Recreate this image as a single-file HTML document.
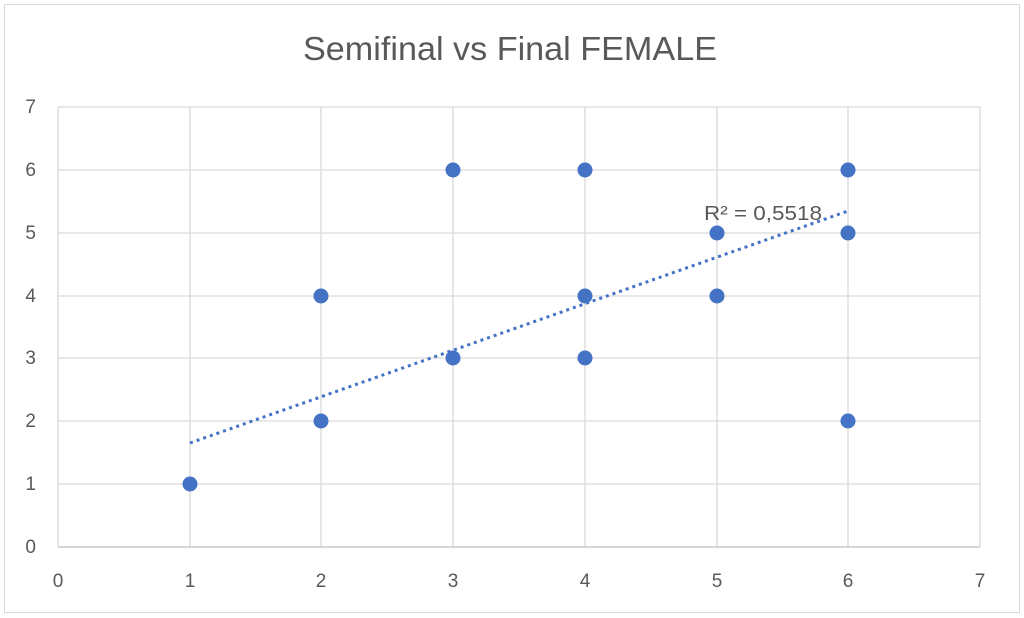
<!DOCTYPE html>
<html><head><meta charset="utf-8"><style>
html,body{margin:0;padding:0;background:#fff;}
svg{display:block;font-family:"Liberation Sans",sans-serif;}
</style></head><body>
<svg width="1024" height="618" viewBox="0 0 1024 618">
<rect x="0" y="0" width="1024" height="618" fill="#fff"/>
<rect x="4.5" y="4.5" width="1015" height="608" fill="none" stroke="#d9d9d9"/>
<text x="510" y="60" text-anchor="middle" font-size="33" fill="#595959" textLength="414" lengthAdjust="spacingAndGlyphs">Semifinal vs Final FEMALE</text>
<g stroke="#d9d9d9" stroke-width="1.3">
<line x1="58" y1="107" x2="980" y2="107"/>
<line x1="58" y1="170" x2="980" y2="170"/>
<line x1="58" y1="233" x2="980" y2="233"/>
<line x1="58" y1="296" x2="980" y2="296"/>
<line x1="58" y1="358" x2="980" y2="358"/>
<line x1="58" y1="421" x2="980" y2="421"/>
<line x1="58" y1="484" x2="980" y2="484"/>
<line x1="190" y1="107" x2="190" y2="547"/>
<line x1="321" y1="107" x2="321" y2="547"/>
<line x1="453" y1="107" x2="453" y2="547"/>
<line x1="585" y1="107" x2="585" y2="547"/>
<line x1="717" y1="107" x2="717" y2="547"/>
<line x1="848" y1="107" x2="848" y2="547"/>
<line x1="980" y1="107" x2="980" y2="547"/>
</g>
<line x1="58" y1="547" x2="980" y2="547" stroke="#bfbfbf" stroke-width="1.3"/>
<line x1="58" y1="107" x2="58" y2="547" stroke="#d9d9d9" stroke-width="1.3"/>
<g font-size="19" fill="#595959" text-anchor="end">
<text x="36" y="113">7</text><text x="36" y="176">6</text><text x="36" y="239">5</text>
<text x="36" y="302">4</text><text x="36" y="364">3</text><text x="36" y="427">2</text>
<text x="36" y="490">1</text><text x="36" y="553">0</text>
</g>
<g font-size="19" fill="#595959" text-anchor="middle">
<text x="58" y="587">0</text><text x="190" y="587">1</text><text x="321" y="587">2</text>
<text x="453" y="587">3</text><text x="585" y="587">4</text><text x="717" y="587">5</text>
<text x="848" y="587">6</text><text x="980" y="587">7</text>
</g>
<line x1="190" y1="443" x2="848" y2="211" stroke="#4472c4" stroke-width="3" stroke-dasharray="3,4"/>
<g fill="#4472c4">
<circle cx="190" cy="484" r="7.5"/>
<circle cx="321" cy="296" r="7.5"/><circle cx="321" cy="421" r="7.5"/>
<circle cx="453" cy="170" r="7.5"/><circle cx="453" cy="358" r="7.5"/>
<circle cx="585" cy="170" r="7.5"/><circle cx="585" cy="296" r="7.5"/><circle cx="585" cy="358" r="7.5"/>
<circle cx="717" cy="233" r="7.5"/><circle cx="717" cy="296" r="7.5"/>
<circle cx="848" cy="170" r="7.5"/><circle cx="848" cy="233" r="7.5"/><circle cx="848" cy="421" r="7.5"/>
</g>
<text x="704" y="220" font-size="20" fill="#595959" textLength="118" lengthAdjust="spacingAndGlyphs">R² = 0,5518</text>
</svg>
</body></html>
